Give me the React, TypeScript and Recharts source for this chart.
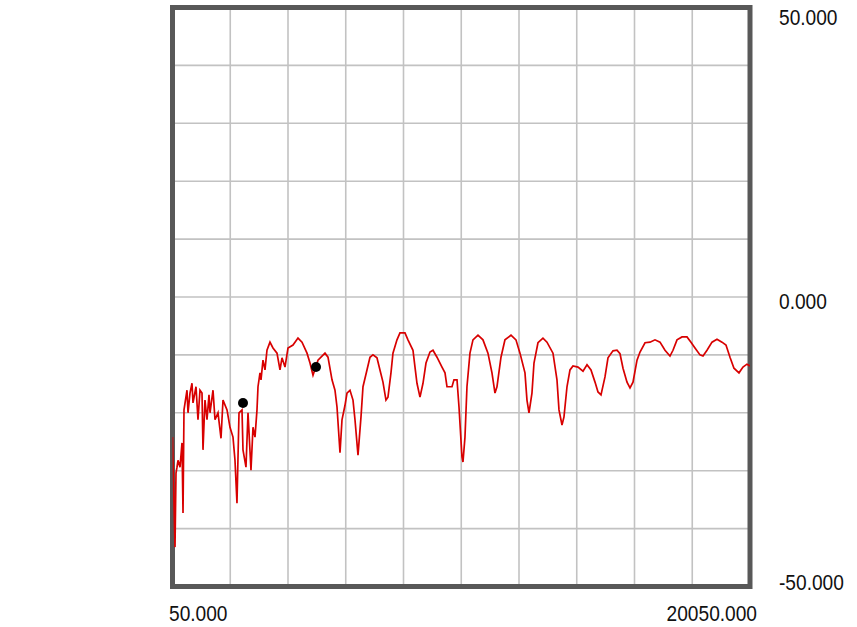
import React from "react";
import {
  ComposedChart,
  Line,
  XAxis,
  YAxis,
  CartesianGrid,
  ReferenceArea,
  ReferenceDot,
} from "recharts";

// Frequency response: frequency (Hz) and level (dB)
const freqs = [
  50, 67, 137, 171, 206, 240, 310, 379, 414, 448, 552, 587, 656, 725, 760, 864, 933, 1002, 1072, 1106,
  1175, 1245, 1314, 1349, 1453, 1522, 1626, 1730, 1799, 1938, 2041, 2145, 2214, 2283, 2353, 2457, 2491,
  2595, 2665, 2768, 2838, 2907, 2976, 3011, 3080, 3115, 3184, 3253, 3322, 3426, 3530, 3669, 3773, 3842,
  3946, 4050, 4223, 4396, 4535, 4708, 4812, 4916, 5089, 5331, 5435, 5574, 5677, 5747, 5851, 5920, 6024,
  6093, 6197, 6301, 6370, 6474, 6578, 6647, 6785, 6889, 6993, 7131, 7235, 7339, 7443, 7512, 7616, 7685,
  7824, 7928, 8101, 8205, 8378, 8448, 8517, 8621, 8725, 8829, 8967, 9071, 9210, 9383, 9487, 9556, 9729,
  9798, 9903, 9972, 10075, 10110, 10179, 10248, 10352, 10456, 10629, 10802, 10975, 11114, 11218, 11287,
  11426, 11564, 11772, 11945, 12084, 12257, 12326, 12396, 12499, 12569, 12707, 12880, 13019, 13227, 13365,
  13435, 13539, 13608, 13712, 13816, 13920, 14093, 14266, 14405, 14543, 14682, 14786, 14890, 15028, 15132,
  15305, 15444, 15548, 15652, 15790, 15894, 15998, 16137, 16241, 16414, 16587, 16760, 16933, 17106, 17279,
  17383, 17522, 17695, 17868, 18006, 18145, 18318, 18422, 18561, 18734, 18907, 19080, 19218, 19357, 19495,
  19669, 19807, 19946, 20050,
];

const levels = [
  -24.2, -28.2, -43.2, -30.4, -29.4, -28.2, -29.4, -25.2, -37.3, -19.5, -16.1, -20.0, -16.6, -14.9, -18.3,
  -15.5, -21.2, -16.1, -16.6, -26.4, -17.8, -21.2, -16.9, -20.0, -16.1, -21.2, -20.0, -24.4, -17.8, -19.5,
  -22.5, -24.2, -28.2, -35.6, -20.0, -19.5, -26.4, -29.4, -20.0, -29.9, -22.5, -24.2, -19.5, -15.5, -13.1,
  -14.3, -10.9, -12.6, -9.2, -7.8, -8.8, -9.7, -12.6, -10.5, -12.1, -8.8, -8.3, -7.1, -7.8, -9.7, -11.4,
  -13.5, -10.9, -9.7, -10.4, -14.3, -16.1, -19.0, -26.9, -21.2, -18.7, -16.6, -16.1, -17.8, -21.2, -27.3,
  -20.7, -15.5, -12.6, -10.4, -10.0, -10.5, -12.6, -14.7, -17.8, -17.3, -13.1, -9.7, -7.4, -6.2, -6.2,
  -7.4, -9.2, -12.1, -14.9, -17.3, -14.9, -11.4, -9.5, -9.2, -10.4, -12.1, -13.1, -15.5, -15.5, -14.3,
  -14.3, -19.0, -27.6, -28.5, -24.2, -15.5, -9.7, -7.4, -6.6, -7.4, -9.7, -13.1, -16.6, -15.5, -10.4,
  -7.4, -6.6, -7.4, -9.7, -13.1, -17.8, -20.0, -16.6, -11.4, -7.9, -7.1, -7.8, -9.7, -14.3, -19.5, -22.1,
  -20.7, -15.5, -12.6, -11.9, -12.1, -12.8, -11.7, -12.6, -14.7, -16.4, -16.9, -13.8, -10.5, -9.3, -9.2,
  -9.8, -12.3, -14.7, -15.7, -14.7, -10.9, -9.5, -7.9, -7.8, -7.4, -7.8, -9.2, -10.2, -9.2, -7.4, -6.9,
  -6.9, -7.8, -8.8, -10.0, -10.2, -9.2, -7.8, -7.3, -7.8, -8.3, -10.4, -12.3, -13.1, -12.1, -11.6, -11.9,
];

// Cursor markers on the trace
const markerFreqs = [2491, 5020];
const markerLevels = [-18.3, -12.1];

// Axis ranges, tick labels and grid divisions
const freqRange = [50, 20050];
const levelRange = [-50, 50];
const freqTicks = [50, 20050];
const levelTicks = [-50, 0, 50];
const dbPerDivision = 10;
const freqGrid = [2050, 4050, 6050, 8050, 10050, 12050, 14050, 16050, 18050];
const levelGrid = [-40, -30, -20, -10, 0, 10, 20, 30, 40];

const data = freqs.map((f, i) => ({ f, db: levels[i] }));

// Condensed label face: a regular sans squeezed horizontally
const textStyle = { fontFamily: '"Liberation Sans", Arial, sans-serif', fontSize: 22, fill: "#111" };
const SQUEEZE = 0.87;

const Label = ({ x, y, anchor, children }: any) => (
  <text
    transform={`translate(${x},${y}) scale(${SQUEEZE},1)`}
    x={0}
    y={0}
    textAnchor={anchor}
    style={textStyle}
  >
    {children}
  </text>
);

const FreqTick = (props: any) => {
  const { x, payload, index } = props;
  const first = index === 0;
  return (
    <Label x={first ? x - 3.5 : x + 7} y={621} anchor={first ? "start" : "end"}>
      {Number(payload.value).toFixed(3)}
    </Label>
  );
};

const LevelTick = (props: any) => {
  const { y, payload } = props;
  const v = Number(payload.value);
  const dy = v === levelRange[1] ? 17.5 : v === levelRange[0] ? 3 : 12;
  return (
    <Label x={779} y={y + dy} anchor="start">
      {v.toFixed(3)}
    </Label>
  );
};

const ScaleTick = (props: any) => {
  const { y } = props;
  return (
    <Label x={17} y={y + 11} anchor="start">
      {`${dbPerDivision.toFixed(2)} dB /`}
    </Label>
  );
};

export default function App() {
  return (
    <div style={{ position: "absolute", left: 0, top: 0, width: 857, height: 627, background: "#fff" }}>
      <ComposedChart
        width={857}
        height={627}
        data={data}
        margin={{ top: 7.5, right: 0, bottom: 0, left: 0 }}
      >
        <XAxis
          dataKey="f"
          type="number"
          domain={freqRange}
          ticks={freqTicks}
          axisLine={false}
          tickLine={false}
          height={40.5}
          tick={<FreqTick />}
          interval={0}
          allowDataOverflow
        />
        <YAxis
          yAxisId="scale"
          orientation="left"
          type="number"
          domain={levelRange}
          ticks={[0]}
          width={172.5}
          axisLine={false}
          tickLine={false}
          tick={<ScaleTick />}
        />
        <YAxis
          yAxisId="db"
          orientation="right"
          type="number"
          domain={levelRange}
          ticks={levelTicks}
          width={107}
          axisLine={false}
          tickLine={false}
          tick={<LevelTick />}
          interval={0}
          allowDataOverflow
        />
        <CartesianGrid
          yAxisId="db"
          stroke="#c2c2c2"
          strokeWidth={1.6}
          verticalValues={freqGrid}
          horizontalValues={levelGrid}
        />
        <ReferenceArea
          yAxisId="db"
          x1={freqRange[0]}
          x2={freqRange[1]}
          y1={levelRange[0]}
          y2={levelRange[1]}
          fill="none"
          fillOpacity={0}
          stroke="#585858"
          strokeWidth={5}
          ifOverflow="visible"
        />
        <Line
          yAxisId="db"
          dataKey="db"
          type="linear"
          stroke="#d80000"
          strokeWidth={1.7}
          dot={false}
          isAnimationActive={false}
        />
        {markerFreqs.map((f, i) => (
          <ReferenceDot
            key={f}
            yAxisId="db"
            x={f}
            y={markerLevels[i]}
            r={5}
            fill="#000"
            stroke="none"
            ifOverflow="visible"
          />
        ))}
      </ComposedChart>
    </div>
  );
}
